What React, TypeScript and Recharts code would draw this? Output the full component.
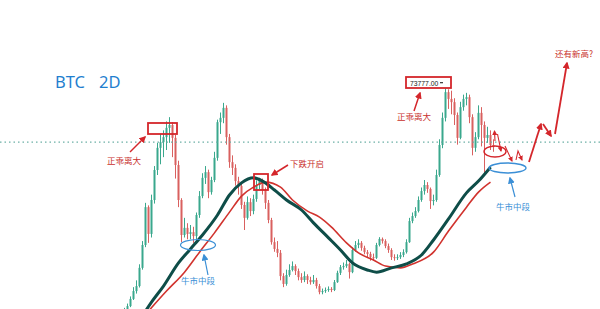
import React from "react";
import { ComposedChart, Bar, Line, XAxis, YAxis, ReferenceLine } from "recharts";

// ---- data (prices in thousands of USD) ----
const FIRST_INDEX = 40; // category index of the first visible candle
const TOTAL_SLOTS = 200;
const FIRST_OPEN = 10.0;

const closes = [
  10.4, 11.2, 12.3, 14.3, 16.5, 17.9, 23.0, 29.4, 40.0, 32.5,
  42.0, 50.4, 56.6, 58.2, 59.6, 62.2, 63.0, 59.4, 51.8, 42.0,
  32.2, 34.2, 32.5, 33.0, 31.9, 37.8, 43.1, 48.2, 49.8, 44.2,
  47.6, 53.8, 63.8, 65.0, 67.8, 59.6, 52.6, 51.0, 47.3, 45.9,
  40.6, 37.0, 41.4, 38.9, 42.3, 46.2, 47.6, 44.8, 41.2, 36.4,
  30.2, 28.3, 27.2, 20.7, 18.5, 21.0, 22.4, 23.5, 22.1, 20.4,
  19.6, 20.7, 19.6, 19.0, 19.6, 17.9, 16.2, 16.5, 16.8, 17.1,
  16.8, 19.0, 21.6, 23.2, 23.5, 24.1, 21.8, 28.0, 29.4, 30.0,
  28.6, 27.4, 26.9, 26.0, 25.8, 29.4, 31.1, 30.5, 29.1, 28.0,
  26.0, 25.8, 26.0, 26.6, 27.4, 30.2, 36.1, 37.5, 38.9, 42.0,
  44.5, 46.2, 45.1, 41.7, 42.0, 49.0, 57.4, 65.0, 72.2, 70.3,
  69.4, 65.8, 59.4, 68.0, 70.3, 70.8, 65.2, 56.6, 59.6, 66.4,
  63.0, 59.4, 60.2, 57.4, 56.8,
];

const highs = [
  10.9, 11.8, 13.0, 15.0, 17.6, 19.5, 24.0, 30.5, 41.2, 40.5,
  43.5, 51.5, 58.0, 60.5, 61.5, 64.0, 65.2, 63.8, 60.2, 53.0,
  42.5, 37.0, 35.5, 35.0, 34.5, 38.5, 44.5, 49.5, 51.5, 50.5,
  48.5, 55.5, 64.5, 66.5, 69.2, 68.5, 60.5, 54.5, 52.0, 48.5,
  46.5, 41.5, 43.0, 42.5, 43.5, 47.5, 48.2, 48.0, 45.5, 42.0,
  37.0, 31.5, 30.5, 28.0, 21.5, 22.5, 24.0, 24.8, 24.0, 22.8,
  21.5, 22.0, 21.2, 20.5, 21.0, 20.2, 18.5, 17.2, 17.5, 17.8,
  17.6, 19.6, 22.2, 23.8, 24.5, 25.2, 24.5, 28.8, 30.5, 31.0,
  30.5, 29.2, 28.0, 27.5, 27.0, 30.0, 31.6, 31.5, 31.0, 29.8,
  28.5, 26.8, 26.8, 27.4, 28.2, 31.0, 37.0, 38.5, 40.0, 43.0,
  45.5, 47.6, 47.0, 45.5, 43.5, 50.5, 59.0, 66.5, 73.8, 73.0,
  72.6, 70.5, 66.5, 69.5, 71.5, 72.0, 71.5, 66.0, 61.0, 68.5,
  68.0, 64.0, 62.5, 61.5, 59.0,
];

const lows = [
  9.8, 10.2, 11.0, 12.0, 14.0, 15.8, 17.5, 22.5, 28.8, 30.0,
  31.5, 41.0, 49.0, 52.0, 54.0, 56.0, 58.0, 54.0, 48.0, 40.0,
  30.2, 31.5, 31.0, 31.0, 30.0, 31.0, 37.0, 42.5, 46.5, 42.5,
  43.5, 47.0, 53.0, 60.5, 63.5, 57.5, 51.0, 49.0, 46.0, 43.5,
  39.5, 33.6, 36.5, 37.5, 38.0, 41.5, 45.0, 43.5, 39.5, 35.5,
  29.5, 27.5, 26.0, 19.5, 17.6, 18.0, 20.5, 22.0, 21.0, 19.5,
  18.8, 19.0, 18.5, 18.3, 18.5, 17.2, 15.6, 15.6, 16.0, 16.3,
  16.2, 16.5, 18.8, 21.0, 22.5, 23.0, 20.0, 21.5, 27.5, 28.5,
  27.8, 26.8, 26.0, 25.0, 25.0, 25.5, 29.0, 29.8, 28.5, 27.2,
  25.2, 25.0, 25.2, 25.5, 26.0, 27.0, 30.0, 35.5, 37.0, 38.5,
  41.5, 43.5, 44.0, 39.5, 40.5, 41.5, 48.5, 56.5, 64.0, 67.5,
  66.0, 63.0, 57.5, 59.0, 67.0, 68.5, 63.5, 54.5, 55.5, 59.0,
  57.0, 49.6, 58.0, 56.0, 55.5,
];

// slow moving average (thick dark teal), sampled at candle indices
const slowMaIndex = [48, 50, 54, 59, 63, 67, 72, 76, 80, 84, 87, 91, 95, 100, 104, 109, 113, 117, 122, 125, 130, 135, 140, 144, 149, 155, 159, 163];
const slowMaValue = [10.9, 13.4, 17.9, 24.4, 28.3, 32.2, 37.8, 43.4, 46.8, 48.2, 47.3, 44.8, 42.0, 39.2, 35.6, 31.4, 28.0, 24.4, 22.4, 21.8, 23.0, 24.1, 26.6, 30.8, 36.7, 44.0, 47.3, 51.2];

// faster moving average (thin red)
const fastMaIndex = [49, 55, 61, 66, 71, 76, 80, 84, 88, 93, 97, 102, 106, 110, 115, 119, 124, 128, 133, 137, 144, 149, 155, 159, 163];
const fastMaValue = [10.9, 16.5, 21.8, 27.4, 32.8, 38.6, 43.1, 45.6, 47.0, 45.6, 42.0, 38.9, 37.2, 34.4, 30.0, 27.2, 25.2, 23.5, 23.0, 24.1, 27.4, 33.3, 40.0, 44.2, 47.0];

const dashedLevel = 58.2;
const Y_DOMAIN: [number, number] = [11.48, 98];

const UP = "#3aa88d";
const DOWN = "#d9605f";
const RED = "#d4262b";
const RED_TEXT = "#c8302c";
const BLUE = "#3b8fd6";

// ---- build rows ----
const rows = Array.from({ length: TOTAL_SLOTS }, (_, i) => {
  const row: any = { i };
  const k = i - FIRST_INDEX;
  if (k >= 0 && k < closes.length) {
    const open = k === 0 ? FIRST_OPEN : closes[k - 1];
    row.open = open;
    row.close = closes[k];
    row.high = highs[k];
    row.low = lows[k];
    row.range = [lows[k], highs[k]];
  }
  const s = slowMaIndex.indexOf(i);
  if (s >= 0) row.slow = slowMaValue[s];
  const f = fastMaIndex.indexOf(i);
  if (f >= 0) row.fast = fastMaValue[f];
  return row;
});

const Candle = (props: any) => {
  const { x, y, width, height, payload } = props;
  if (!payload || payload.high == null) return null;
  const { open, close, high, low } = payload;
  const top = Math.min(y, y + height);
  const h = Math.abs(height);
  const span = high - low || 1;
  const toY = (v: number) => top + ((high - v) / span) * h;
  const cx = x + width / 2;
  const up = close >= open;
  const color = up ? UP : DOWN;
  const yA = toY(Math.max(open, close));
  const yB = toY(Math.min(open, close));
  return (
    <g>
      <line x1={cx} x2={cx} y1={top} y2={top + h} stroke={color} strokeWidth={1} />
      <rect x={cx - 1} y={yA} width={2} height={Math.max(1, yB - yA)} fill={color} />
    </g>
  );
};

const cjk = '"Noto Sans CJK SC", "Noto Sans", sans-serif';

const Overlay = () => (
  <svg width={600} height={309} style={{ position: "absolute", left: 0, top: 0, pointerEvents: "none" }}>
    <defs>
      <marker id="ahR" markerWidth={7} markerHeight={7} refX={5.5} refY={3.5} orient="auto" markerUnits="userSpaceOnUse">
        <path d="M0,0 L7,3.5 L0,7 z" fill={RED} />
      </marker>
      <marker id="ahRs" markerWidth={5} markerHeight={5} refX={4} refY={2.5} orient="auto" markerUnits="userSpaceOnUse">
        <path d="M0,0 L5,2.5 L0,5 z" fill={RED} />
      </marker>
      <marker id="ahB" markerWidth={7} markerHeight={7} refX={5.5} refY={3.5} orient="auto" markerUnits="userSpaceOnUse">
        <path d="M0,0 L7,3.5 L0,7 z" fill={BLUE} />
      </marker>
    </defs>

    <text x={55} y={88} fontSize={16.5} fill="#1f7fcf" fontFamily='"Noto Sans", "Open Sans", sans-serif'>BTC</text>
    <text x={99} y={88} fontSize={16.5} fill="#1f7fcf" fontFamily='"Noto Sans", "Open Sans", sans-serif'>2D</text>

    {/* red boxes */}
    <rect x={148} y={123} width={29} height={11} fill="none" stroke={RED} strokeWidth={1.8} />
    <rect x={254} y={174} width={14} height={16} fill="none" stroke={RED} strokeWidth={1.8} />
    <rect x={406} y={77} width={45} height={11} fill="#fff" stroke={RED} strokeWidth={1.8} />
    <text x={410} y={85.5} fontSize={6.8} fill="#222" fontFamily='"Liberation Sans", sans-serif'>73777.00</text>
    <rect x={440} y={82} width={3} height={1.3} fill="#444" />

    {/* ellipses */}
    <ellipse cx={198} cy={245} rx={17.5} ry={5.5} fill="none" stroke={BLUE} strokeWidth={1.2} />
    <ellipse cx={507.5} cy={168} rx={18.5} ry={5} fill="none" stroke={BLUE} strokeWidth={1.4} />
    <ellipse cx={495} cy={151.5} rx={11} ry={5.5} fill="none" stroke={RED} strokeWidth={1.4} />

    {/* red arrows */}
    <line x1={130} y1={152} x2={145} y2={137} stroke={RED} strokeWidth={1.5} markerEnd="url(#ahR)" />
    <line x1={288} y1={165} x2={272} y2={175} stroke={RED} strokeWidth={1.5} markerEnd="url(#ahR)" />
    <line x1={414} y1={111} x2={420} y2={93} stroke={RED} strokeWidth={1.5} markerEnd="url(#ahR)" />
    <line x1={495} y1={141} x2={494.5} y2={131} stroke={RED} strokeWidth={1.1} markerEnd="url(#ahRs)" />
    <line x1={497.5} y1={134} x2={501} y2={151} stroke={RED} strokeWidth={1.1} markerEnd="url(#ahRs)" />
    <line x1={505} y1={146} x2={512} y2={161} stroke={RED} strokeWidth={1.1} markerEnd="url(#ahRs)" />
    <polyline points="516,160 518,151 522,160" fill="none" stroke={RED} strokeWidth={1.1} markerEnd="url(#ahRs)" />
    <line x1={529} y1={162} x2={541} y2={124} stroke={RED} strokeWidth={1.8} markerEnd="url(#ahR)" />
    <line x1={543} y1={124} x2={551} y2={136} stroke={RED} strokeWidth={1.8} markerEnd="url(#ahR)" />
    <line x1={555} y1={134} x2={567} y2={63} stroke={RED} strokeWidth={1.8} markerEnd="url(#ahR)" />

    {/* blue arrows */}
    <line x1={208} y1={275} x2={204} y2={255} stroke={BLUE} strokeWidth={1.2} markerEnd="url(#ahB)" />
    <line x1={515} y1={197} x2={510} y2={178} stroke={BLUE} strokeWidth={1.2} markerEnd="url(#ahB)" />

    {/* labels */}
    <text x={124} y={163.5} fontSize={8.5} fill={RED_TEXT} textAnchor="middle" fontFamily={cjk}>正乖离大</text>
    <text x={414} y={120} fontSize={8.5} fill={RED_TEXT} textAnchor="middle" fontFamily={cjk}>正乖离大</text>
    <text x={290} y={167} fontSize={8.5} fill={RED_TEXT} fontFamily={cjk}>下跌开启</text>
    <text x={555} y={57} fontSize={8.5} fill={RED_TEXT} fontFamily={cjk}>还有新高?</text>
    <text x={198} y={284} fontSize={8.5} fill={BLUE} textAnchor="middle" fontFamily={cjk}>牛市中段</text>
    <text x={513} y={210} fontSize={8.5} fill={BLUE} textAnchor="middle" fontFamily={cjk}>牛市中段</text>
  </svg>
);

export default function App() {
  return (
    <div style={{ position: "absolute", left: 0, top: 0, width: 600, height: 309, background: "#fff" }}>
      <ComposedChart width={600} height={309} data={rows} margin={{ top: 0, right: 0, bottom: 0, left: 0 }} barCategoryGap={0}>
        <XAxis dataKey="i" type="category" hide />
        <YAxis type="number" domain={Y_DOMAIN} allowDataOverflow hide />
        <ReferenceLine y={dashedLevel} stroke="#6cb0a6" strokeDasharray="1.5 3" strokeWidth={1.3} />
        <Bar dataKey="range" shape={Candle} isAnimationActive={false} />
        <Line dataKey="fast" type="monotone" stroke="#d1332e" strokeWidth={1.6} dot={false} connectNulls isAnimationActive={false} />
        <Line dataKey="slow" type="monotone" stroke="#0e4d48" strokeWidth={3} dot={false} connectNulls isAnimationActive={false} />
      </ComposedChart>
      <Overlay />
    </div>
  );
}
